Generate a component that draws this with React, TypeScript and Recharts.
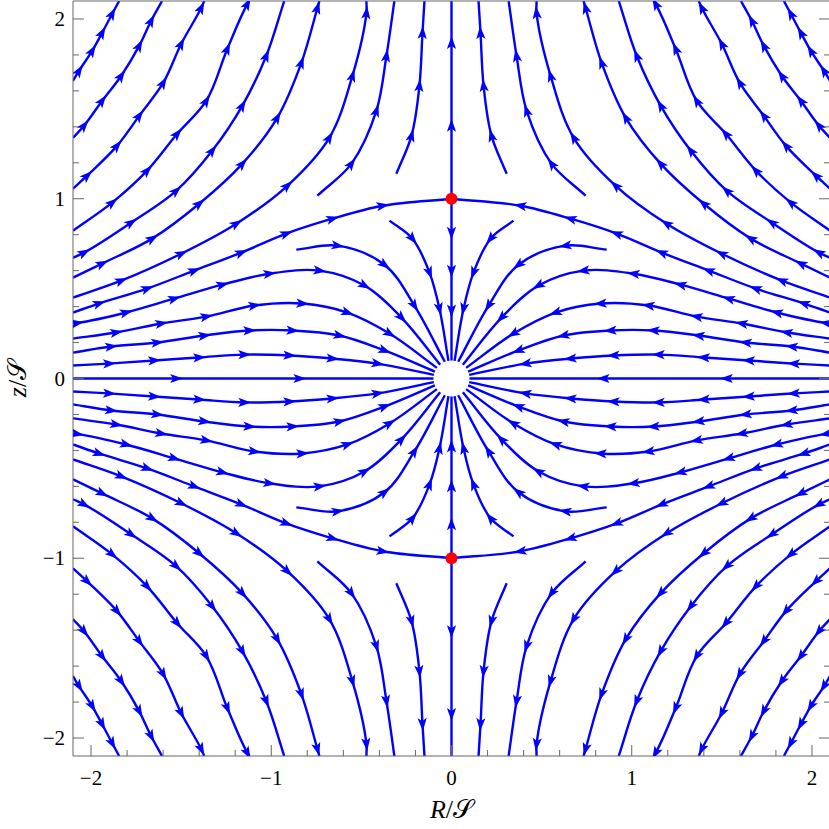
import { LineChart, Line, XAxis, YAxis, ReferenceDot } from "recharts";

// axis ticks every 0.2, labelled at the integers
const ticks = [-2, -1.8, -1.6, -1.4, -1.2, -1, -0.8, -0.6, -0.4, -0.2, 0, 0.2, 0.4, 0.6, 0.8, 1, 1.2, 1.4, 1.6, 1.8, 2];
const saddles = [1, -1];

// streamlines of the R<0, z>0 quadrant, listed in flow order: [R, z, arrow]
const l1 = [[-2.1, 1.656], [-2.067, 1.711, 1], [-1.994, 1.822, 1], [-1.939, 1.922, 1], [-1.883, 2.028, 1], [-1.844, 2.1]];
const l2 = [[-2.1, 1.339], [-2.039, 1.406, 1], [-1.939, 1.544, 1], [-1.833, 1.683, 1], [-1.733, 1.85, 1], [-1.667, 1.989, 1], [-1.606, 2.1]];
const l3 = [[-2.1, 1.056], [-2.022, 1.128, 1], [-1.856, 1.294, 1], [-1.733, 1.461, 1], [-1.6, 1.644, 1], [-1.5, 1.861, 1], [-1.389, 2.061, 1], [-1.372, 2.1]];
const l4 = [[-2.1, 0.822], [-1.883, 0.978, 1], [-1.689, 1.156, 1], [-1.522, 1.361, 1], [-1.361, 1.544, 1], [-1.244, 1.833, 1], [-1.133, 2.083, 1], [-1.122, 2.1]];
const l5 = [[-2.1, 0.672], [-2.039, 0.7, 1], [-1.778, 0.867, 1], [-1.528, 1.044, 1], [-1.328, 1.267, 1], [-1.161, 1.517, 1], [-1.028, 1.794, 1], [-0.928, 2.1]];
const l6 = [[-2.1, 0.561], [-1.939, 0.639, 1], [-1.661, 0.778, 1], [-1.4, 0.972, 1], [-1.161, 1.194, 1], [-0.967, 1.45, 1], [-0.833, 1.756, 1], [-0.744, 2.061, 1], [-0.733, 2.1]];
const l7 = [[-2.1, 0.45], [-1.833, 0.544, 1], [-1.5, 0.694, 1], [-1.194, 0.861, 1], [-0.911, 1.072, 1], [-0.678, 1.339, 1], [-0.55, 1.683, 1], [-0.472, 2.033, 1], [-0.472, 2.1]];
const sep = [[-2.1, 0.367], [-1.956, 0.417, 1], [-1.689, 0.5, 1], [-1.428, 0.6, 1], [-1.167, 0.7, 1], [-0.917, 0.806, 1], [-0.661, 0.889, 1], [-0.383, 0.961, 1], [0, 1]];
const l9 = [[-2.1, 0.306], [-2.078, 0.308, 1], [-1.806, 0.367, 1], [-1.539, 0.444, 1], [-1.272, 0.522, 1], [-1.011, 0.583, 1], [-0.733, 0.6, 1], [-0.483, 0.517, 1], [-0.278, 0.339, 1], [-0.063, 0.077]];
const l10 = [[-2.1, 0.222], [-1.861, 0.256, 1], [-1.611, 0.306, 1], [-1.361, 0.344, 1], [-1.094, 0.406, 1], [-0.828, 0.417, 1], [-0.578, 0.367, 1], [-0.344, 0.25, 1], [-0.081, 0.059]];
const l11 = [[-2.1, 0.144], [-1.889, 0.178, 1], [-1.633, 0.2, 1], [-1.372, 0.239, 1], [-1.122, 0.267, 1], [-0.883, 0.267, 1], [-0.622, 0.239, 1], [-0.372, 0.156, 1], [-0.092, 0.038]];
const l12 = [[-2.1, 0.072], [-1.9, 0.083, 1], [-1.65, 0.1, 1], [-1.4, 0.117, 1], [-1.15, 0.133, 1], [-0.9, 0.128, 1], [-0.661, 0.111, 1], [-0.411, 0.083, 1], [-0.098, 0.02]];
const s1 = [[-0.744, 1.017], [-0.556, 1.194, 1], [-0.417, 1.489, 1], [-0.361, 1.794, 1], [-0.317, 2.1]];
const s2 = [[-0.306, 1.139], [-0.222, 1.35, 1], [-0.178, 1.628, 1], [-0.161, 1.922, 1], [-0.15, 2.1]];
const s3 = [[-0.861, 0.717], [-0.633, 0.739, 1], [-0.372, 0.633, 1], [-0.206, 0.406, 1], [-0.037, 0.093]];
const s4 = [[-0.344, 0.878], [-0.217, 0.778, 1], [-0.122, 0.589, 1], [-0.067, 0.389, 1], [-0.017, 0.098]];
// lines on the axes
const hAxis = [[-2.1, 0], [-1.528, 0, 1], [-0.844, 0, 1], [-0.1, 0]];
const vUp = [[0, 1], [0, 1.406, 1], [0, 1.867, 1], [0, 2.1]];
const vDown = [[0, 1], [0, 0.811, 1], [0, 0.6, 1], [0, 0.378, 1], [0, 0.1]];

const quadrant = [l1, l2, l3, l4, l5, l6, l7, sep, l9, l10, l11, l12, s1, s2, s3, s4];

const BLUE = "#0000ff";
const AXIS = "#666";
const FONT = "'Liberation Serif', 'Times New Roman', Times, serif";

type Pt = { x: number; z: number; a: boolean };

const toPts = (raw: number[][], sx: number, sz: number): Pt[] =>
  raw.map(([x, z, a]) => ({ x: x * sx, z: z * sz, a: a === 1 }));

// the plot is mirrored in R and in z
const series: Pt[][] = [];
quadrant.forEach((l) => {
  series.push(toPts(l, 1, 1), toPts(l, -1, 1), toPts(l, 1, -1), toPts(l, -1, -1));
});
series.push(toPts(hAxis, 1, 1), toPts(hAxis, -1, 1));
series.push(toPts(vUp, 1, 1), toPts(vUp, 1, -1), toPts(vDown, 1, 1), toPts(vDown, 1, -1));

const unit = (dx: number, dy: number) => {
  const l = Math.hypot(dx, dy);
  return l > 1e-9 ? [dx / l, dy / l] : [0, 0];
};
const bisect = (a: number[], b: number[], c: number[]) => {
  const u = unit(b[0] - a[0], b[1] - a[1]);
  const v = unit(c[0] - b[0], c[1] - b[1]);
  return unit(u[0] + v[0], u[1] + v[1]);
};

// smooth curve through the points, tangents from neighbours
const smooth = (context: any) => {
  let pts: number[][] = [];
  return {
    areaStart() {},
    areaEnd() {},
    lineStart() {
      pts = [];
    },
    point(x: number, y: number) {
      pts.push([+x, +y]);
    },
    lineEnd() {
      const n = pts.length;
      if (!n) return;
      context.moveTo(pts[0][0], pts[0][1]);
      for (let i = 0; i < n - 1; i++) {
        const p0 = pts[Math.max(i - 1, 0)];
        const p1 = pts[i];
        const p2 = pts[i + 1];
        const p3 = pts[Math.min(i + 2, n - 1)];
        const d = Math.hypot(p2[0] - p1[0], p2[1] - p1[1]) / 3;
        const t1 = bisect(p0, p1, p2);
        const t2 = bisect(p1, p2, p3);
        context.bezierCurveTo(p1[0] + t1[0] * d, p1[1] + t1[1] * d, p2[0] - t2[0] * d, p2[1] - t2[1] * d, p2[0], p2[1]);
      }
    },
  };
};

const arrowDot = (pts: Pt[]) => (props: any) => {
  const { cx, cy, index } = props;
  const p = pts[index];
  if (!p || !p.a || cx == null || cy == null) return <g key={`n${index}`} />;
  const prev = pts[Math.max(index - 1, 0)];
  const next = pts[Math.min(index + 1, pts.length - 1)];
  const t = bisect([prev.x, -prev.z], [p.x, -p.z], [next.x, -next.z]);
  const ang = (Math.atan2(t[1], t[0]) * 180) / Math.PI;
  return (
    <path
      key={`a${index}`}
      d="M7,0 L-6,-4.6 L-3,0 L-6,4.6 Z"
      transform={`translate(${cx},${cy}) rotate(${ang})`}
      fill={BLUE}
      stroke="none"
    />
  );
};

const fmt = (v: number) => (v < 0 ? `\u2212${-v}` : `${v}`);
const isMajor = (v: number) => Number.isInteger(v);

const BottomTick = (props: any) => {
  const { x, y, payload } = props;
  const v = payload.value;
  return (
    <g>
      <line x1={x} x2={x} y1={y} y2={y - (isMajor(v) ? 11 : 6)} stroke={AXIS} />
      {isMajor(v) && (
        <text x={x} y={y + 29} textAnchor="middle" fontSize={21} style={{ fontFamily: FONT }} fill="#000">
          {fmt(v)}
        </text>
      )}
      {v === 0 && (
        <text x={x} y={y + 62} textAnchor="middle" fontSize={26} style={{ fontFamily: FONT }} fill="#000">
          <tspan fontStyle="italic">R</tspan>/<tspan>𝒮</tspan>
        </text>
      )}
    </g>
  );
};

const LeftTick = (props: any) => {
  const { x, y, payload } = props;
  const v = payload.value;
  return (
    <g>
      <line x1={x} x2={x + (isMajor(v) ? 11 : 6)} y1={y} y2={y} stroke={AXIS} />
      {isMajor(v) && (
        <text x={x - 8} y={y + 7} textAnchor="end" fontSize={21} style={{ fontFamily: FONT }} fill="#000">
          {fmt(v)}
        </text>
      )}
      {v === 0 && (
        <text
          x={x - 47}
          y={y}
          transform={`rotate(-90 ${x - 47} ${y})`}
          textAnchor="middle"
          fontSize={26}
          style={{ fontFamily: FONT }}
          fill="#000"
        >
          <tspan fontStyle="italic">z</tspan>/<tspan>𝒮</tspan>
        </text>
      )}
    </g>
  );
};

const TopTick = (props: any) => {
  const { x, y, payload } = props;
  return <line x1={x} x2={x} y1={y} y2={y + (isMajor(payload.value) ? 11 : 6)} stroke={AXIS} />;
};

const RightTick = (props: any) => {
  const { x, y, payload } = props;
  return <line x1={x} x2={x - (isMajor(payload.value) ? 11 : 6)} y1={y} y2={y} stroke={AXIS} />;
};

export default function App() {
  return (
    <div style={{ width: 829, height: 829, overflow: "hidden", background: "#fff" }}>
      <style>{`body{margin:0}`}</style>
      <LineChart width={831} height={829} margin={{ top: 0, right: 0, bottom: 0, left: 0 }}>
        <XAxis
          dataKey="x"
          type="number"
          domain={[-2.1, 2.1]}
          ticks={ticks}
          interval={0}
          height={73}
          tickSize={0}
          tickMargin={0}
          tickLine={false}
          axisLine={{ stroke: AXIS }}
          tick={BottomTick}
          allowDataOverflow
        />
        <XAxis
          xAxisId="t"
          orientation="top"
          type="number"
          domain={[-2.1, 2.1]}
          ticks={ticks}
          interval={0}
          height={1}
          tickSize={0}
          tickMargin={0}
          tickLine={false}
          axisLine={{ stroke: AXIS }}
          tick={TopTick}
          allowDataOverflow
        />
        <YAxis
          type="number"
          domain={[-2.1, 2.1]}
          ticks={ticks}
          interval={0}
          width={73}
          tickSize={0}
          tickMargin={0}
          tickLine={false}
          axisLine={{ stroke: AXIS }}
          tick={LeftTick}
          allowDataOverflow
        />
        <YAxis
          yAxisId="r"
          orientation="right"
          type="number"
          domain={[-2.1, 2.1]}
          ticks={ticks}
          interval={0}
          width={1}
          tickSize={0}
          tickMargin={0}
          tickLine={false}
          axisLine={{ stroke: AXIS }}
          tick={RightTick}
          allowDataOverflow
        />
        {series.map((pts, i) => (
          <Line
            key={i}
            data={pts}
            dataKey="z"
            type={smooth as any}
            stroke={BLUE}
            strokeWidth={2.4}
            dot={arrowDot(pts)}
            activeDot={false}
            legendType="none"
            isAnimationActive={false}
          />
        ))}
        {saddles.map((z) => (
          <ReferenceDot key={z} x={0} y={z} r={6} fill="#ff0000" stroke="none" />
        ))}
      </LineChart>
    </div>
  );
}
